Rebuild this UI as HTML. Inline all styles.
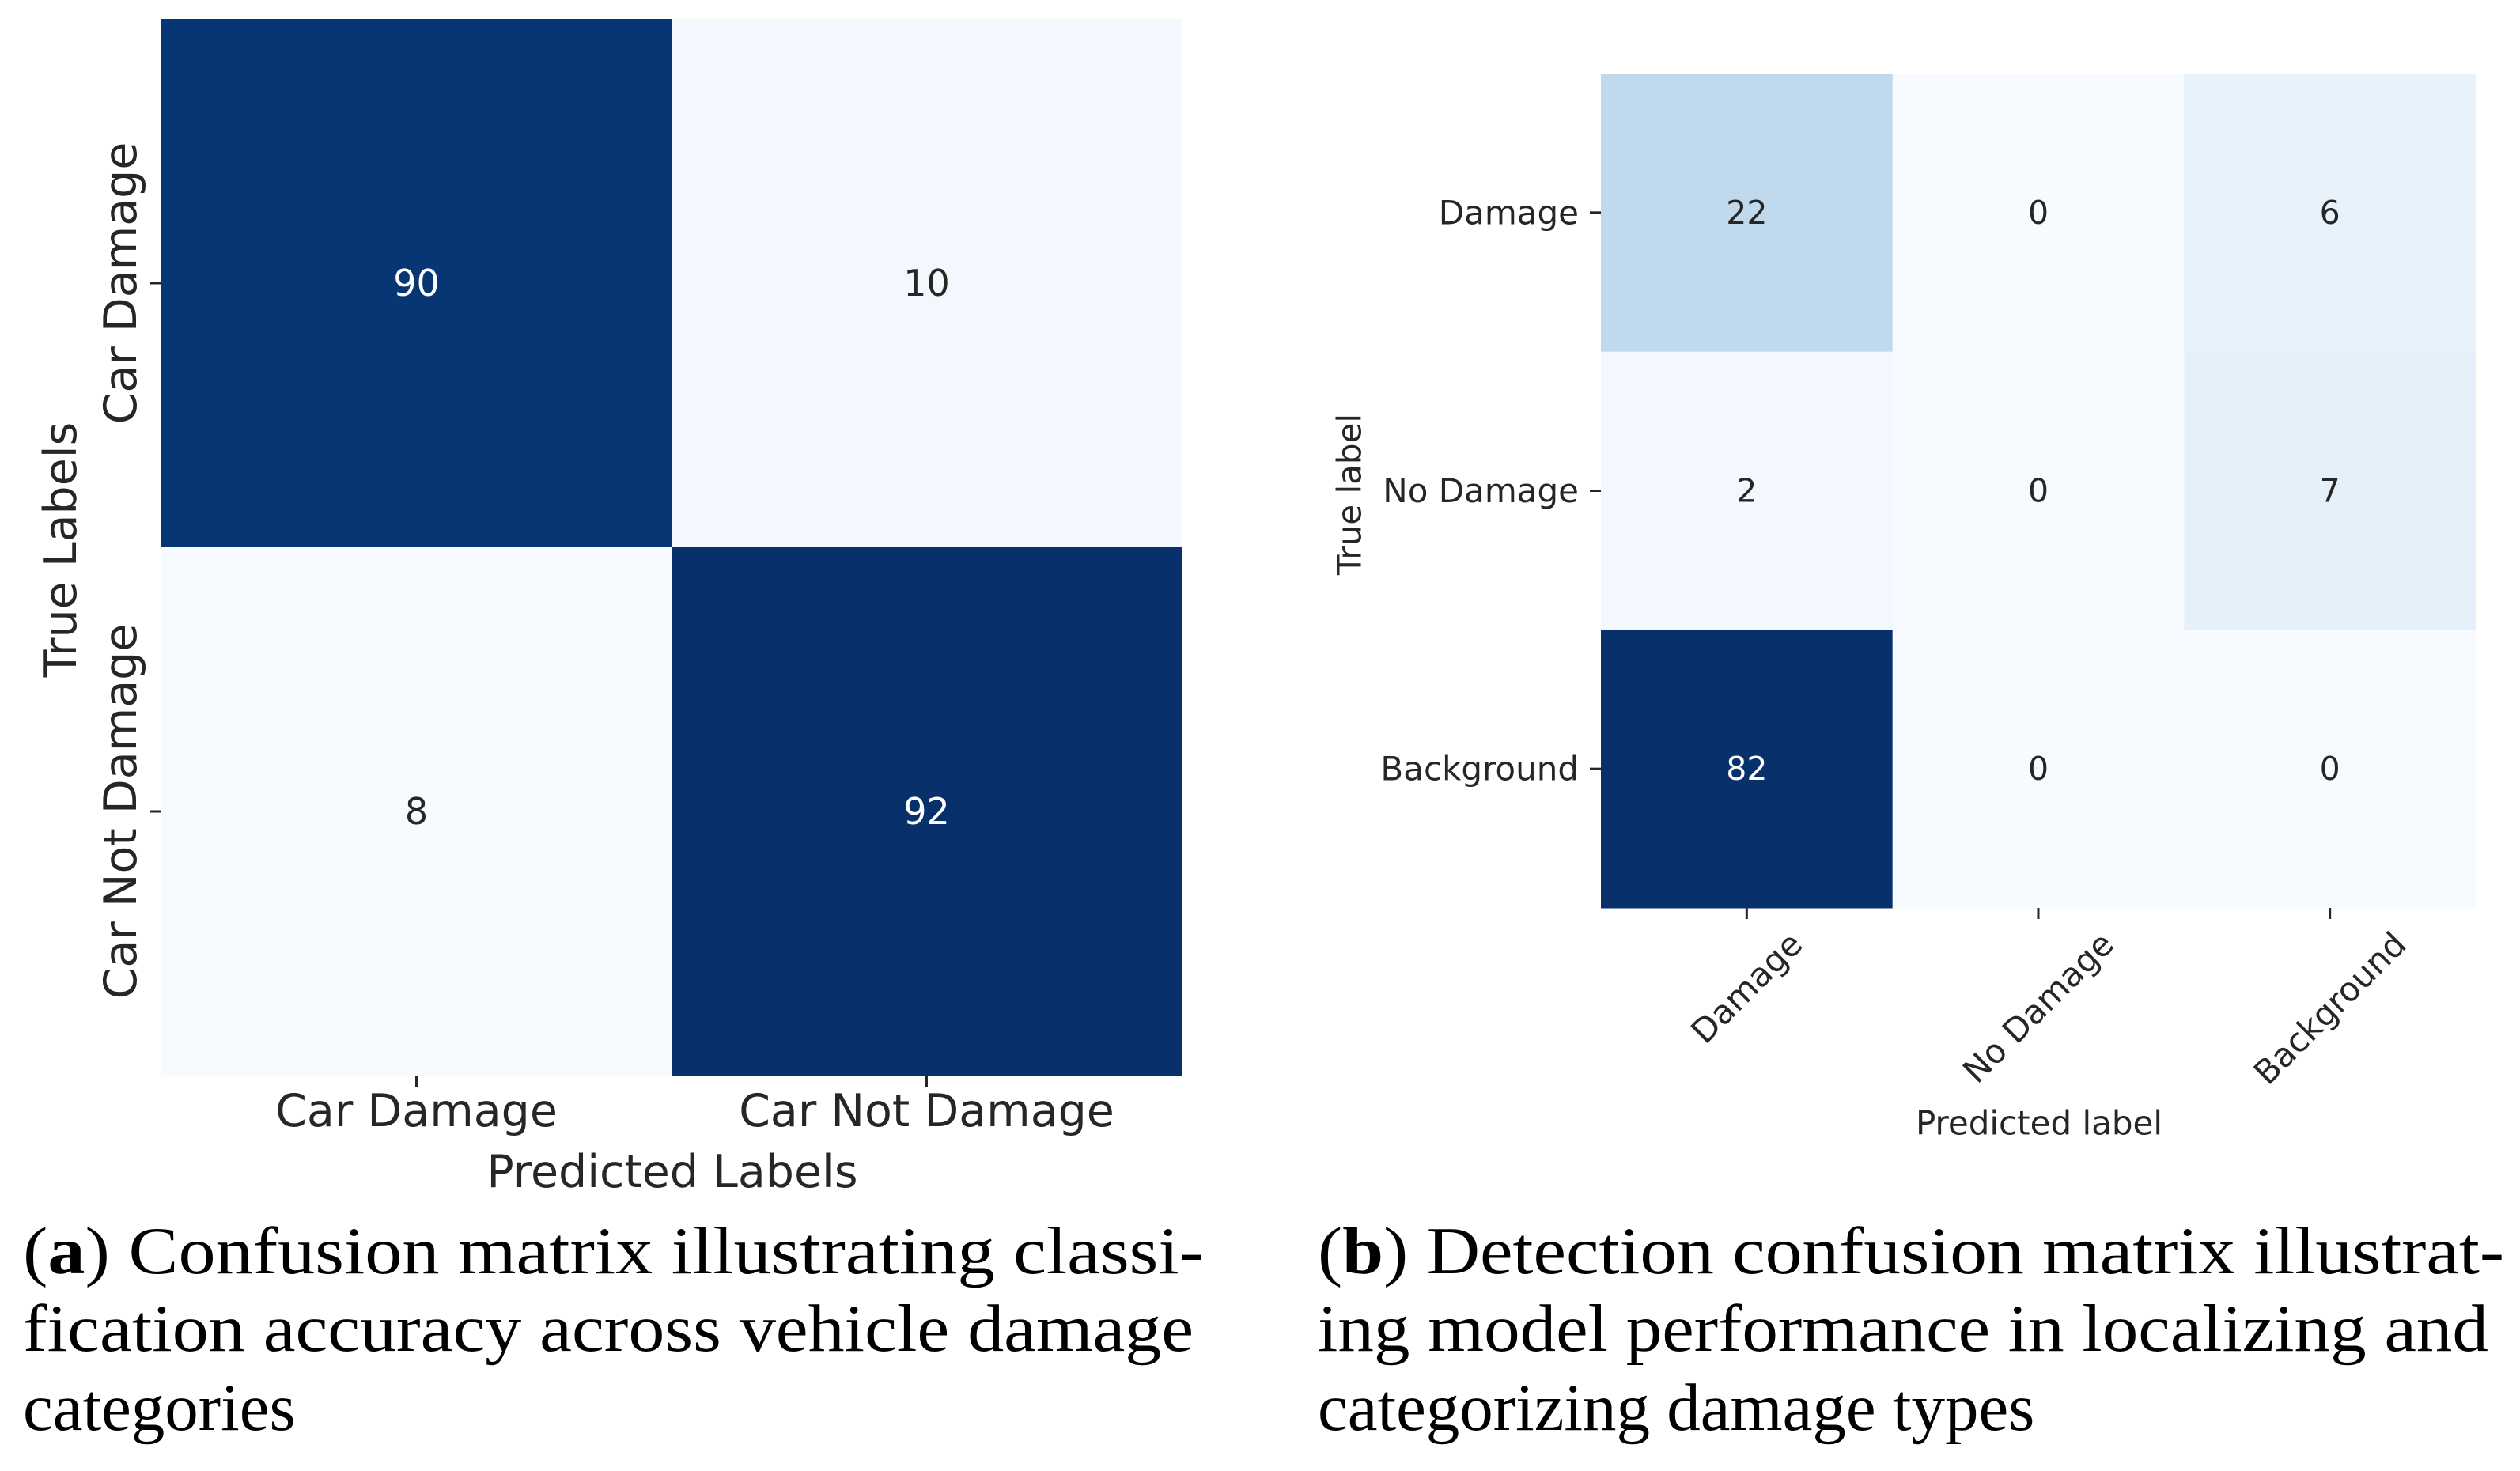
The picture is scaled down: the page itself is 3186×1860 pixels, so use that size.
<!DOCTYPE html>
<html><head><meta charset="utf-8">
<style>
html,body{margin:0;padding:0;background:#fff;}
svg{display:block;}
.s{font-family:"DejaVu Sans","Liberation Sans",sans-serif;fill:#262626;}
.cap{font-family:"Liberation Serif",serif;fill:#000;font-size:85px;}
</style></head>
<body>
<svg id="root" width="3186" height="1860" viewBox="0 0 3186 1860" xmlns="http://www.w3.org/2000/svg">
<g id="chartA"></g>
<g id="chartB"></g>
<text class="cap" x="29" y="1610" textLength="1493" lengthAdjust="spacingAndGlyphs">(<tspan font-weight="bold">a</tspan>) Confusion matrix illustrating classi-</text>
<text class="cap" x="29" y="1708" textLength="1480" lengthAdjust="spacingAndGlyphs">fication accuracy across vehicle damage</text>
<text class="cap" x="29" y="1808">categories</text>
<text class="cap" x="1666" y="1610" textLength="1500" lengthAdjust="spacingAndGlyphs">(<tspan font-weight="bold">b</tspan>) Detection confusion matrix illustrat-</text>
<text class="cap" x="1666" y="1708" textLength="1480" lengthAdjust="spacingAndGlyphs">ing model performance in localizing and</text>
<text class="cap" x="1666" y="1808">categorizing damage types</text>
</svg>
<script>
// Chart A data
const catsA = ["Car Damage", "Car Not Damage"];
const valuesA = [[90, 10], [8, 92]];
// Chart B data
const catsB = ["Damage", "No Damage", "Background"];
const valuesB = [[22, 0, 6], [2, 0, 7], [82, 0, 0]];

const NS = "http://www.w3.org/2000/svg";
const stops = ["#f7fbff","#deebf7","#c6dbef","#9ecae1","#6baed6","#4292c6","#2171b5","#08519c","#08306b"];
function hex(c){return [1,3,5].map(i=>parseInt(c.substr(i,2),16));}
function blues(t){
  t=Math.max(0,Math.min(1,t));
  const p=t*(stops.length-1), i=Math.min(Math.floor(p),stops.length-2), f=p-i;
  const a=hex(stops[i]), b=hex(stops[i+1]);
  return "rgb("+a.map((v,k)=>Math.round(v+(b[k]-v)*f)).join(",")+")";
}
function el(tag, attrs, parent){
  const e=document.createElementNS(NS,tag);
  for(const k in attrs) e.setAttribute(k,attrs[k]);
  parent.appendChild(e); return e;
}
function drawMatrix(g, cats, vals, o){
  const n=cats.length;
  const flat=vals.flat(), vmin=Math.min(...flat), vmax=Math.max(...flat);
  const cw=(o.x1-o.x0)/n, ch=(o.y1-o.y0)/n;
  const xS=j=>o.x0+cw*j, yS=i=>o.y0+ch*i;
  for(let i=0;i<n;i++)for(let j=0;j<n;j++){
    const v=vals[i][j], t=(v-vmin)/(vmax-vmin);
    const r=el("rect",{x:xS(j),y:yS(i),width:cw+0.5,height:ch+0.5,fill:blues(t)},g);
    
    
    const tx=el("text",{x:xS(j)+cw/2,y:yS(i)+ch/2,"text-anchor":"middle","dominant-baseline":"central","font-size":o.num,class:"s"},g);
    if(t>0.5) tx.style.fill="#fff";
    tx.textContent=v;
    
    
  }
  for(let k=0;k<n;k++){
    const cx=xS(k)+cw/2, cy=yS(k)+ch/2;
    const t1=el("line",{x1:cx,x2:cx,y1:o.y1,y2:o.y1+o.tick,stroke:"#262626","stroke-width":3},g);
    
    
    const t2=el("line",{x1:o.x0-o.tick,x2:o.x0,y1:cy,y2:cy,stroke:"#262626","stroke-width":3},g);
    
    
    const xl=el("text",{class:"s","font-size":o.tf,"text-anchor":"middle","dominant-baseline":"central"},g);
    xl.textContent=cats[k];
    
    
    if(o.rotX){
      const w=xl.getComputedTextLength(), h=o.tf*1.1;
      const bh=(w+h)*Math.SQRT1_2;
      const yy=o.y1+o.tick+8+bh/2;
      xl.setAttribute("x",cx); xl.setAttribute("y",yy);
      xl.setAttribute("transform","rotate(-45 "+cx+" "+yy+")");
    } else {
      xl.setAttribute("x",cx); xl.setAttribute("y",o.xly);
    }
    const yl=el("text",{class:"s","font-size":o.tf,"dominant-baseline":"central"},g);
    yl.textContent=cats[k];
    
    
    if(o.rotY){
      yl.setAttribute("text-anchor","middle");
      yl.setAttribute("x",o.ylx); yl.setAttribute("y",cy);
      yl.setAttribute("transform","rotate(-90 "+o.ylx+" "+cy+")");
    } else {
      yl.setAttribute("text-anchor","end");
      yl.setAttribute("x",o.x0-o.tick-14); yl.setAttribute("y",cy);
    }
  }
  const xt=el("text",{class:"s","font-size":o.af,"text-anchor":"middle","dominant-baseline":"central",x:o.xtx,y:o.xty},g);
  xt.textContent=o.xtitle;
  
  
  const yt=el("text",{class:"s","font-size":o.af,"text-anchor":"middle","dominant-baseline":"central",x:o.ytx,y:o.yty,transform:"rotate(-90 "+o.ytx+" "+o.yty+")"},g);
  yt.textContent=o.ytitle;
  
  
}
drawMatrix(document.getElementById("chartA"),catsA,valuesA,{
  x0:204,x1:1494,y0:24,y1:1360,num:46,tf:57,af:57,tick:14,
  rotX:false,rotY:true,xly:1405,ylx:153,
  xtitle:"Predicted Labels",xtx:850,xty:1482,ytitle:"True Labels",ytx:77,yty:695});
drawMatrix(document.getElementById("chartB"),catsB,valuesB,{
  x0:2024,x1:3130,y0:93,y1:1148,num:41,tf:42,af:42,tick:14,
  rotX:true,rotY:false,
  xtitle:"Predicted label",xtx:2578,xty:1420,ytitle:"True label",ytx:1706,yty:625});
</script>
</body></html>
